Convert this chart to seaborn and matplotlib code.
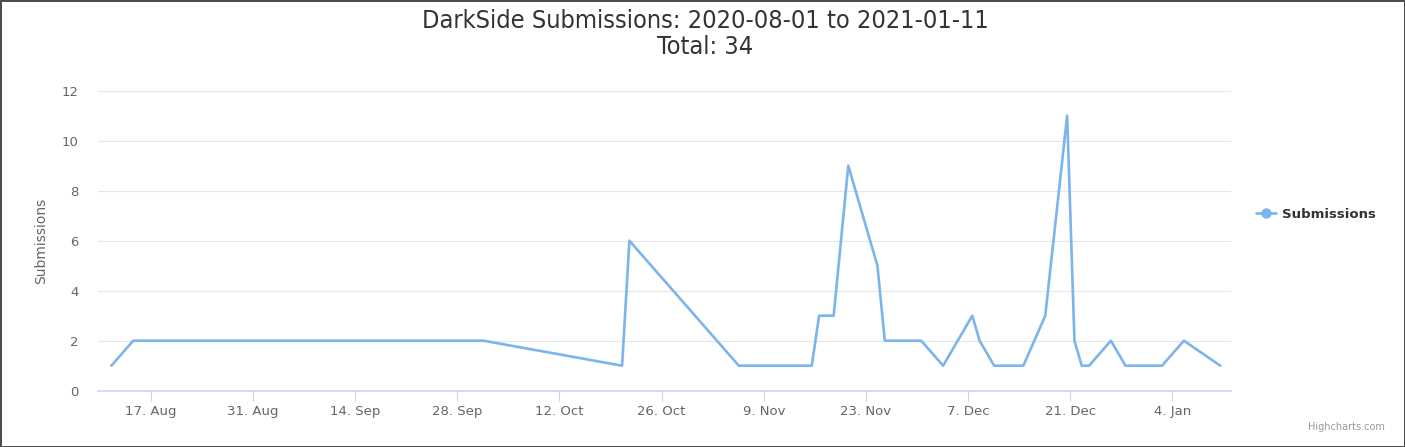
import numpy as np
import pandas as pd
import matplotlib
matplotlib.use('Agg')
import matplotlib.pyplot as plt
import matplotlib.dates as mdates
from matplotlib.lines import Line2D
import seaborn as sns

# submissions per day
dates = ['2020-08-11', '2020-08-14', '2020-10-01', '2020-10-20', '2020-10-21',
         '2020-11-05', '2020-11-15', '2020-11-16', '2020-11-18', '2020-11-20',
         '2020-11-24', '2020-11-25', '2020-11-30', '2020-12-03', '2020-12-07',
         '2020-12-08', '2020-12-10', '2020-12-14', '2020-12-17', '2020-12-20',
         '2020-12-21', '2020-12-22', '2020-12-23', '2020-12-26', '2020-12-28',
         '2021-01-02', '2021-01-05', '2021-01-10']
counts = [1, 2, 2, 1, 6,
          1, 1, 3, 3, 9,
          5, 2, 2, 1, 3,
          2, 1, 1, 3, 11,
          2, 1, 1, 2, 1,
          1, 2, 1]
tick_dates = ['2020-08-17', '2020-08-31', '2020-09-14', '2020-09-28', '2020-10-12',
              '2020-10-26', '2020-11-09', '2020-11-23', '2020-12-07', '2020-12-21',
              '2021-01-04']
y_ticks = [0, 2, 4, 6, 8, 10, 12]

title = 'DarkSide Submissions: 2020-08-01 to 2021-01-11'
subtitle = 'Total: 34'

# timestamps are shifted (timezone) relative to the midnight ticks
df = pd.DataFrame({'date': pd.to_datetime(dates) + pd.Timedelta(hours=14),
                   'Submissions': counts})

sns.set_style('white')
plt.rcParams['font.family'] = ['DejaVu Sans']

W, H = 1405, 447
fig = plt.figure(figsize=(W / 100, H / 100), dpi=100,
                 edgecolor='#4d4d4d', linewidth=2)
ax = fig.add_axes([98.3 / W, 1 - 390.7 / H, (1230.7 - 98.3) / W, 300 / H])

line_col = '#7cb5ec'
sns.lineplot(data=df, x='date', y='Submissions', color=line_col,
             linewidth=1.9, ax=ax, legend=False)

ax.set_ylim(0, 12)
ax.set_yticks(y_ticks)
ax.set_xlim(pd.Timestamp('2020-08-09 19:00'), pd.Timestamp('2021-01-12'))
ax.set_xticks(pd.to_datetime(tick_dates))
ax.xaxis.set_major_formatter(mdates.DateFormatter('%-d. %b'))

ax.yaxis.grid(True, color='#e6e6e6', linewidth=0.8)
ax.xaxis.grid(False)
for s in ['top', 'right', 'left']:
    ax.spines[s].set_visible(False)
ax.spines['bottom'].set_color('#ccd6eb')
ax.spines['bottom'].set_linewidth(1.2)

ax.tick_params(axis='x', length=7.5, width=0.8, color='#ccd6eb',
               labelsize=9.5, labelcolor='#666666', pad=2.5, direction='out', bottom=True)
ax.tick_params(axis='y', length=0, labelsize=9.5, labelcolor='#666666', pad=14)

ax.set_xlabel('')
ax.set_ylabel('Submissions', fontsize=10, color='#666666')
ax.yaxis.set_label_coords(-0.044, 0.5)

fig.text(0.502, 1 - 21 / H, title, ha='center', va='center',
         fontsize=18.2, color='#333333', fontstretch='condensed')
fig.text(0.502, 1 - 47 / H, subtitle, ha='center', va='center',
         fontsize=18.2, color='#333333', fontstretch='condensed')

handle = Line2D([], [], color=line_col, linewidth=1.9, marker='o',
                markersize=6.5, markerfacecolor=line_col, markeredgecolor=line_col)
fig.legend([handle], ['Submissions'], loc='center left',
           bbox_to_anchor=(1244 / W, 1 - 214 / H), frameon=False,
           handlelength=1.5, handletextpad=0.5,
           prop={'size': 9.5, 'weight': 'bold'}, labelcolor='#333333')

fig.text(1 - 20 / W, 1 - 427 / H, 'Highcharts.com', ha='right', va='center',
         fontsize=7, color='#999999')

fig.savefig('out.png', dpi=100, edgecolor=fig.get_edgecolor())
